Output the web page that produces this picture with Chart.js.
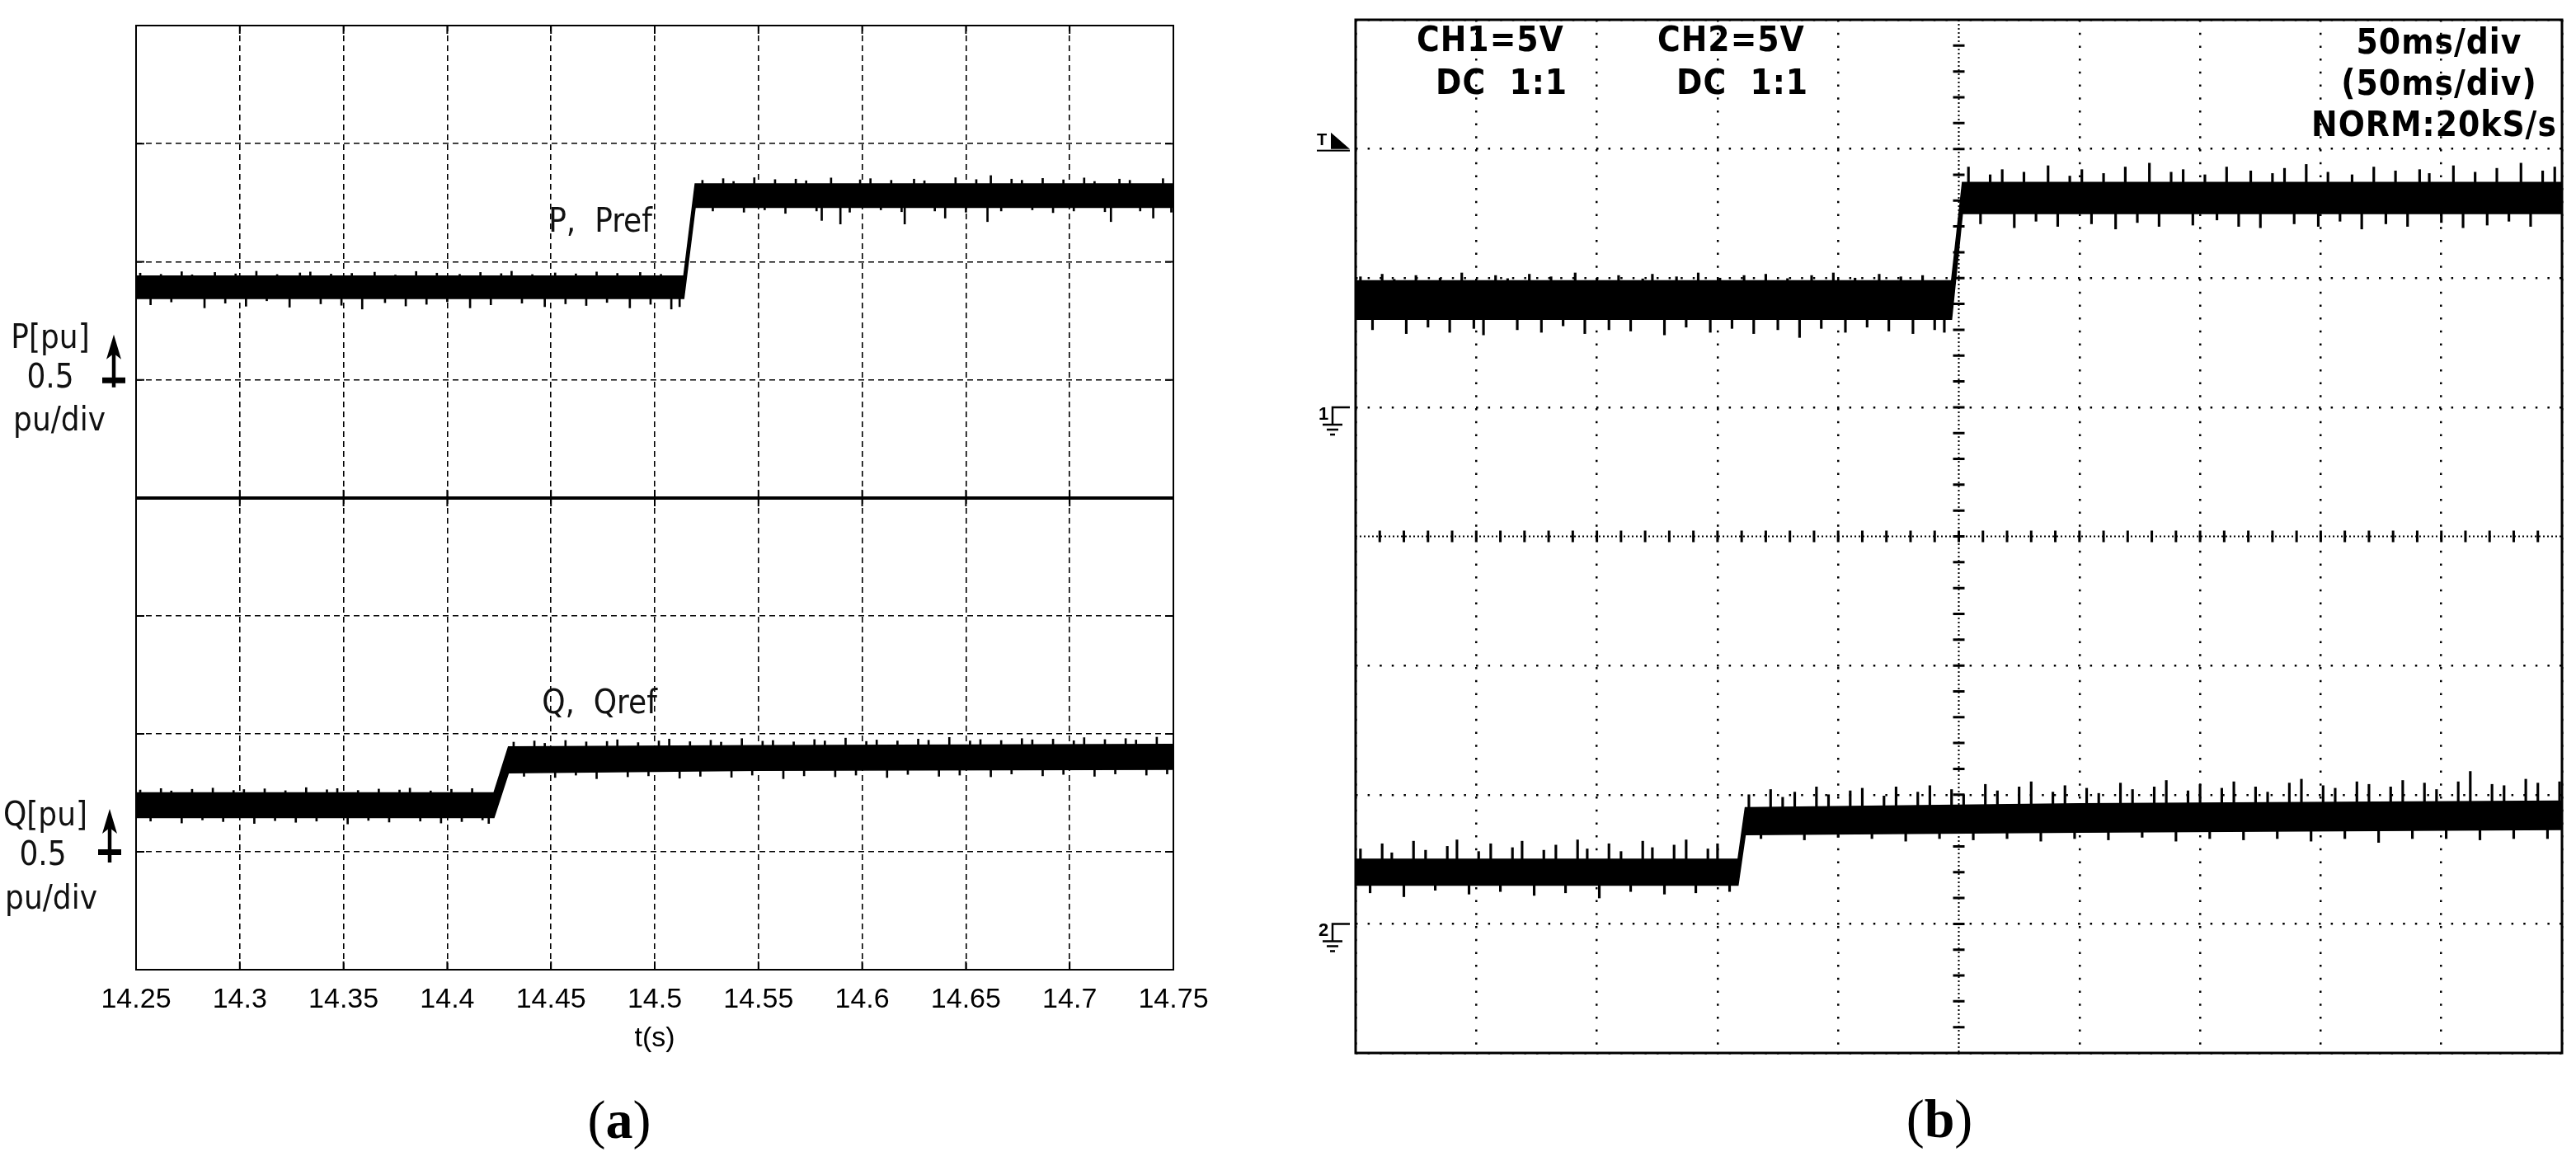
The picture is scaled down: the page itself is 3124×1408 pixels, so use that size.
<!DOCTYPE html>
<html>
<head>
<meta charset="utf-8">
<script src="https://cdn.jsdelivr.net/npm/chart.js@4.4.1/dist/chart.umd.min.js"></script>
<style>
  html, body { margin: 0; padding: 0; background: #fff; overflow: hidden; }
  body { width: 3124px; height: 1408px; position: relative; }
  canvas { position: absolute; }
  .lbl { position: absolute; transform: translate(-50%, -50%); white-space: pre; line-height: 1;
         font-family: "Liberation Sans Narrow", "DejaVu Sans Condensed", "Liberation Sans", sans-serif;
         font-size: 40px; color: #111; }
  .scope { position: absolute; transform: translateY(-50%); white-space: pre; line-height: 1;
           font-family: "Liberation Sans Narrow", "DejaVu Sans Condensed", "Liberation Sans", sans-serif;
           font-weight: bold; font-size: 42px; color: #000; letter-spacing: 1px; }
  .scope.c { transform: translate(-50%, -50%); }
  .cap { position: absolute; transform: translate(-50%, -50%); line-height: 1;
         font-family: "Liberation Serif", "DejaVu Serif", serif; font-size: 66px; color: #000; }
</style>
</head>
<body>
<canvas id="chartP" width="1378" height="613" style="left:105px;top:11px"></canvas>
<canvas id="chartQ" width="1378" height="712" style="left:105px;top:584px"></canvas>
<canvas id="chartScope" width="1533" height="1277" style="left:1584px;top:10px"></canvas>

<div class="lbl" style="left:61px;top:408px">P[pu]</div>
<div class="lbl" style="left:61px;top:456px">0.5</div>
<div class="lbl" style="left:72px;top:508px">pu/div</div>
<div class="lbl" style="left:55px;top:987px">Q[pu]</div>
<div class="lbl" style="left:52px;top:1035px">0.5</div>
<div class="lbl" style="left:62px;top:1088px">pu/div</div>
<div class="lbl" style="left:728px;top:267px">P,  Pref</div>
<div class="lbl" style="left:727px;top:851px">Q,  Qref</div>

<div class="scope" style="left:1718px;top:48px">CH1=5V</div>
<div class="scope" style="left:1741px;top:100px">DC  1:1</div>
<div class="scope" style="left:2010px;top:48px">CH2=5V</div>
<div class="scope" style="left:2033px;top:100px">DC  1:1</div>
<div class="scope c" style="left:2958px;top:51px">50ms/div</div>
<div class="scope c" style="left:2958px;top:101px">(50ms/div)</div>
<div class="scope c" style="left:2952px;top:151px">NORM:20kS/s</div>

<div class="cap" style="left:751px;top:1358px">(<b>a</b>)</div>
<div class="cap" style="left:2352px;top:1357px">(<b>b</b>)</div>

<script>
// ---- (a) simulation, time in s, power in pu (0.5 pu/div) ----
const timeTicks = ["14.25", "14.3", "14.35", "14.4", "14.45", "14.5", "14.55", "14.6", "14.65", "14.7", "14.75"];

// dense core of the noisy trace (lower / upper edge)
const pTime = [14.25, 14.514, 14.5195, 14.75];
const pUpper = [0.44, 0.44, 0.83, 0.83];
const pLower = [0.345, 0.345, 0.73, 0.73];

const qTime = [14.25, 14.4225, 14.4295, 14.55, 14.75];
const qUpper = [0.25, 0.25, 0.445, 0.45, 0.455];
const qLower = [0.145, 0.145, 0.335, 0.345, 0.35];

// noise spikes poking out of the core (time, tip value)
const pLowSpikeT = [14.252, 14.257, 14.262, 14.267, 14.272, 14.277, 14.283, 14.288, 14.293, 14.298,
  14.303, 14.308, 14.313, 14.318, 14.324, 14.329, 14.334, 14.339, 14.344, 14.349,
  14.354, 14.359, 14.365, 14.37, 14.375, 14.38, 14.385, 14.39, 14.395, 14.4,
  14.406, 14.411, 14.416, 14.421, 14.426, 14.431, 14.436, 14.441, 14.447, 14.452,
  14.457, 14.462, 14.467, 14.472, 14.477, 14.482, 14.488, 14.493, 14.498, 14.503,
  14.508, 14.512];
const pLowSpikeV = [0.452, 0.318, 0.447, 0.33, 0.458, 0.445, 0.305, 0.455, 0.325, 0.449,
  0.312, 0.46, 0.335, 0.446, 0.308, 0.453, 0.457, 0.322, 0.448, 0.316,
  0.451, 0.3, 0.456, 0.327, 0.444, 0.313, 0.459, 0.32, 0.452, 0.331,
  0.447, 0.305, 0.455, 0.318, 0.45, 0.46, 0.325, 0.446, 0.31, 0.453,
  0.322, 0.449, 0.315, 0.457, 0.328, 0.451, 0.305, 0.455, 0.32, 0.447,
  0.3, 0.31];
const pHighSpikeT = [14.523, 14.528, 14.533, 14.538, 14.543, 14.548, 14.553, 14.558, 14.563, 14.568,
  14.573, 14.578, 14.5805, 14.585, 14.5895, 14.594, 14.599, 14.604, 14.609, 14.614,
  14.619, 14.6205, 14.625, 14.63, 14.635, 14.64, 14.645, 14.65, 14.655, 14.6604,
  14.662, 14.667, 14.672, 14.677, 14.682, 14.687, 14.692, 14.697, 14.702, 14.707,
  14.712, 14.717, 14.7199, 14.724, 14.729, 14.734, 14.7403, 14.745, 14.749];
const pHighSpikeV = [0.845, 0.715, 0.852, 0.84, 0.71, 0.856, 0.72, 0.848, 0.705, 0.85,
  0.843, 0.715, 0.675, 0.855, 0.66, 0.71, 0.847, 0.852, 0.72, 0.845,
  0.712, 0.66, 0.85, 0.843, 0.715, 0.685, 0.856, 0.71, 0.848, 0.67,
  0.865, 0.715, 0.85, 0.845, 0.72, 0.853, 0.708, 0.847, 0.715, 0.855,
  0.84, 0.712, 0.67, 0.85, 0.845, 0.715, 0.685, 0.852, 0.71];

const qLowSpikeT = [14.252, 14.257, 14.262, 14.267, 14.272, 14.277, 14.282, 14.287, 14.292, 14.297,
  14.302, 14.307, 14.312, 14.317, 14.322, 14.327, 14.332, 14.337, 14.342, 14.347,
  14.352, 14.357, 14.362, 14.367, 14.372, 14.377, 14.382, 14.387, 14.392, 14.397,
  14.402, 14.407, 14.412, 14.417, 14.42];
const qLowSpikeV = [0.262, 0.13, 0.268, 0.258, 0.122, 0.265, 0.135, 0.27, 0.128, 0.26,
  0.264, 0.12, 0.267, 0.132, 0.259, 0.125, 0.272, 0.13, 0.263, 0.268,
  0.118, 0.26, 0.133, 0.266, 0.126, 0.262, 0.27, 0.13, 0.258, 0.122,
  0.265, 0.128, 0.268, 0.135, 0.12];
const qHighSpikeT = [14.432, 14.437, 14.442, 14.447, 14.452, 14.457, 14.462, 14.467, 14.472, 14.477,
  14.482, 14.487, 14.492, 14.497, 14.502, 14.507, 14.512, 14.517, 14.522, 14.527,
  14.532, 14.537, 14.542, 14.547, 14.552, 14.557, 14.562, 14.567, 14.572, 14.577,
  14.582, 14.587, 14.592, 14.597, 14.602, 14.607, 14.612, 14.617, 14.622, 14.627,
  14.632, 14.637, 14.642, 14.647, 14.652, 14.657, 14.662, 14.667, 14.672, 14.677,
  14.682, 14.687, 14.692, 14.697, 14.702, 14.707, 14.712, 14.717, 14.722, 14.727,
  14.732, 14.737, 14.742, 14.747];
const qHighSpikeV = [0.465, 0.32, 0.47, 0.46, 0.315, 0.472, 0.325, 0.466, 0.31, 0.468,
  0.475, 0.318, 0.463, 0.322, 0.47, 0.478, 0.312, 0.467, 0.32, 0.473,
  0.465, 0.316, 0.48, 0.325, 0.469, 0.472, 0.31, 0.466, 0.322, 0.476,
  0.47, 0.318, 0.482, 0.325, 0.468, 0.474, 0.315, 0.47, 0.328, 0.478,
  0.473, 0.32, 0.485, 0.325, 0.47, 0.476, 0.318, 0.472, 0.33, 0.48,
  0.475, 0.322, 0.478, 0.328, 0.471, 0.484, 0.32, 0.476, 0.33, 0.48,
  0.474, 0.325, 0.486, 0.33];

// ---- (b) oscilloscope, time in ms, volts (5 V/div) ----
const ch1Time = [0, 247, 251.5, 500];
const ch1Upper = [4.9, 4.9, 8.7, 8.7];
const ch1Lower = [3.4, 3.4, 7.5, 7.5];

const ch2Time = [0, 158.5, 161.5, 300, 500];
const ch2Upper = [2.5, 2.5, 4.5, 4.65, 4.75];
const ch2Lower = [1.5, 1.5, 3.45, 3.55, 3.65];

const ch1LowSpikeT = [2, 7, 11, 16, 21, 25, 30, 35, 39, 44,
  49, 53, 58, 63, 67, 72, 77, 81, 86, 91,
  95, 100, 105, 109, 114, 119, 123, 128, 133, 137,
  142, 147, 151, 156, 161, 165, 170, 175, 179, 184,
  189, 193, 198, 203, 207, 212, 217, 221, 226, 231,
  235, 240, 244];
const ch1LowSpikeV = [5.05, 3.0, 5.15, 4.95, 2.85, 5.1, 3.1, 5.0, 2.9, 5.2,
  3.05, 2.8, 5.1, 4.98, 3.0, 5.15, 2.9, 5.05, 3.15, 5.2,
  2.85, 5.0, 3.0, 5.1, 2.95, 4.97, 5.15, 2.8, 5.05, 3.1,
  5.2, 2.9, 5.0, 3.05, 5.1, 2.85, 5.15, 3.0, 4.98, 2.7,
  5.1, 3.05, 5.2, 2.9, 5.0, 3.1, 5.15, 2.95, 5.05, 2.85,
  5.1, 3.0, 2.9];
const ch1HighSpikeT = [254, 259, 263, 268, 273, 277, 282, 287, 291, 296,
  301, 305, 310, 315, 319, 324, 329, 333, 338, 343,
  347, 352, 357, 361, 366, 371, 375, 380, 385, 389,
  394, 399, 403, 408, 413, 417, 422, 427, 431, 436,
  441, 445, 450, 455, 459, 464, 469, 473, 478, 483,
  487, 492, 497];
const ch1HighSpikeV = [9.3, 7.1, 9.0, 9.2, 6.95, 9.1, 7.2, 9.35, 7.0, 8.95,
  9.2, 7.1, 9.05, 6.9, 9.3, 7.15, 9.45, 7.0, 9.1, 9.2,
  7.05, 9.0, 7.25, 9.3, 7.0, 9.15, 6.95, 9.05, 9.25, 7.1,
  9.4, 7.0, 9.1, 7.2, 9.0, 6.9, 9.3, 7.1, 9.15, 7.0,
  9.2, 9.05, 7.15, 9.35, 6.95, 9.1, 7.05, 9.25, 7.2, 9.45,
  7.0, 9.15, 9.3];
const ch2LowSpikeT = [2, 6, 11, 15, 20, 24, 29, 33, 38, 42,
  47, 51, 56, 60, 65, 69, 74, 78, 83, 87,
  92, 96, 101, 105, 110, 114, 119, 123, 128, 132,
  137, 141, 146, 150, 155];
const ch2LowSpikeV = [2.9, 1.2, 3.1, 2.75, 1.05, 3.2, 2.85, 1.3, 3.0, 3.25,
  1.15, 2.8, 3.1, 1.25, 2.95, 3.2, 1.1, 2.85, 3.05, 1.2,
  3.25, 2.9, 1.0, 3.1, 2.8, 1.25, 3.2, 2.95, 1.15, 3.05,
  3.25, 1.2, 2.9, 3.1, 1.25];
const ch2HighSpikeT = [163, 168, 172, 177, 182, 186, 191, 196, 200, 205,
  210, 214, 219, 224, 228, 233, 238, 242, 247, 252,
  256, 261, 266, 270, 275, 280, 284, 289, 294, 298,
  303, 308, 312, 317, 322, 326, 331, 336, 340, 345,
  350, 354, 359, 364, 368, 373, 378, 382, 387, 392,
  396, 401, 406, 410, 415, 420, 424, 429, 434, 438,
  443, 448, 452, 457, 462, 466, 471, 476, 480, 485,
  490, 494, 499];
const ch2HighSpikeV = [5.0, 3.3, 5.2, 4.9, 5.1, 3.25, 5.3, 5.0, 3.35, 5.15,
  5.25, 3.3, 4.95, 5.3, 3.2, 5.1, 5.35, 3.3, 5.2, 5.0,
  3.25, 5.4, 5.15, 3.3, 5.3, 5.5, 3.2, 5.1, 5.35, 3.3,
  5.25, 5.05, 3.25, 5.45, 5.2, 3.35, 5.3, 5.55, 3.2, 5.15,
  5.4, 3.3, 5.25, 5.5, 3.25, 5.3, 5.1, 3.3, 5.45, 5.6,
  3.2, 5.35, 5.25, 3.3, 5.5, 5.4, 3.15, 5.3, 5.55, 3.3,
  5.45, 5.2, 3.3, 5.5, 5.9, 3.25, 5.4, 5.35, 3.3, 5.6,
  5.45, 3.3, 5.5];

const voltsPerDiv = 5;
const groundDiv = [5, 1];   // CH1, CH2 ground markers
const triggerDiv = 7;

Chart.defaults.font.family = '"Liberation Sans", Arial, sans-serif';
Chart.defaults.color = "#000";

function pts(xs, ys, map) {
  return xs.map((x, i) => ({ x: x, y: map ? map(ys[i]) : ys[i] }));
}

function band(label, xs, lo, hi, map, w) {
  return [
    { label: label + " low", data: pts(xs, lo, map), borderColor: "#000", borderWidth: w, pointRadius: 0, fill: false },
    { label: label + " high", data: pts(xs, hi, map), borderColor: "#000", borderWidth: w, pointRadius: 0,
      backgroundColor: "#000", fill: "-1" },
  ];
}

// floating bars from the trace mean out to each spike tip
function spikes(label, ts, vs, base, map, w) {
  const f = map || (v => v);
  return {
    type: "bar", label: label, grouped: false, barThickness: w, backgroundColor: "#000", borderWidth: 0,
    data: ts.map((t, i) => ({ x: t, y: [f(base), f(vs[i])] })),
  };
}

const mid = (lo, hi, i) => (lo[i] + hi[i]) / 2;

// frame + inner tick marks round the plot area
const framePlugin = {
  id: "frame",
  afterDraw(chart, args, opts) {
    const { ctx, chartArea: a } = chart;
    ctx.save();
    ctx.strokeStyle = "#000";
    ctx.lineWidth = opts.width;
    ctx.strokeRect(a.left, a.top, a.right - a.left, a.bottom - a.top);
    if (opts.tickLen) {
      const L = opts.tickLen;
      ctx.lineWidth = 2;
      ctx.beginPath();
      const sx = chart.scales.x, sy = chart.scales.y;
      sx.ticks.forEach(t => {
        const px = sx.getPixelForValue(t.value);
        ctx.moveTo(px, a.top); ctx.lineTo(px, a.top + L);
        ctx.moveTo(px, a.bottom); ctx.lineTo(px, a.bottom - L);
      });
      sy.ticks.forEach(t => {
        const py = sy.getPixelForValue(t.value);
        ctx.moveTo(a.left, py); ctx.lineTo(a.left + L, py);
        ctx.moveTo(a.right, py); ctx.lineTo(a.right - L, py);
      });
      ctx.stroke();
    }
    if (opts.bottomWidth) {
      ctx.lineWidth = opts.bottomWidth;
      ctx.beginPath();
      ctx.moveTo(a.left, a.bottom); ctx.lineTo(a.right, a.bottom);
      ctx.stroke();
    }
    ctx.restore();
  }
};

// scale arrow (0.5 pu/div marker) left of the plot, crossbar at the zero line
const arrowPlugin = {
  id: "scaleArrow",
  afterDraw(chart, args, opts) {
    if (!opts.offset) return;
    const { ctx, chartArea: a } = chart;
    const y0 = chart.scales.y.getPixelForValue(0);
    const x = a.left - opts.offset;
    const tip = y0 - opts.up;
    ctx.save();
    ctx.strokeStyle = "#000";
    ctx.fillStyle = "#000";
    ctx.lineWidth = 4.5;
    ctx.beginPath();
    ctx.moveTo(x, tip + 20); ctx.lineTo(x, y0 + opts.down);
    ctx.stroke();
    ctx.beginPath();
    ctx.moveTo(x, tip); ctx.lineTo(x - 9, tip + 30); ctx.lineTo(x, tip + 23); ctx.lineTo(x + 9, tip + 30);
    ctx.closePath(); ctx.fill();
    ctx.fillRect(x - 14, y0 - 3, 28, 7);
    ctx.restore();
  }
};

const commonA = () => ({
  type: "line",
  plugins: [framePlugin, arrowPlugin],
  options: {
    responsive: false, animation: false, events: [],
    plugins: { legend: { display: false }, tooltip: { enabled: false } },
    scales: {
      x: {
        type: "linear", min: 14.25, max: 14.75, offset: false,
        ticks: { stepSize: 0.05, display: false },
        grid: { color: "#000", lineWidth: 1.6, drawTicks: false, offset: false },
        border: { display: false, dash: [7, 5] },
      },
      y: {
        min: -0.5, max: 1.5,
        ticks: { stepSize: 0.5, display: false },
        grid: { color: "#000", lineWidth: 1.6, drawTicks: false },
        border: { display: false, dash: [7, 5] },
        afterFit(s) { s.width = 0; },
      },
    },
  },
});

// top subplot: P
const cfgP = commonA();
cfgP.data = { datasets: [
  ...band("P", pTime, pLower, pUpper, null, 1.5),
  spikes("P spikes low", pLowSpikeT, pLowSpikeV, mid(pLower, pUpper, 0), null, 2),
  spikes("P spikes high", pHighSpikeT, pHighSpikeV, mid(pLower, pUpper, 3), null, 2),
] };
cfgP.options.layout = { padding: { left: 60, right: 60, top: 20, bottom: 20 } };
cfgP.options.scales.x.afterFit = s => { s.height = 0; };
cfgP.options.plugins.frame = { width: 2, tickLen: 10, bottomWidth: 4 };
cfgP.options.plugins.scaleArrow = { offset: 27, up: 55, down: 9 };
new Chart(document.getElementById("chartP"), cfgP);

// bottom subplot: Q, with time axis labels
const cfgQ = commonA();
cfgQ.data = { datasets: [
  ...band("Q", qTime, qLower, qUpper, null, 1.5),
  spikes("Q spikes low", qLowSpikeT, qLowSpikeV, mid(qLower, qUpper, 0), null, 2),
  spikes("Q spikes high", qHighSpikeT, qHighSpikeV, mid(qLower, qUpper, 3), null, 2),
] };
cfgQ.options.layout = { padding: { left: 60, right: 60, top: 20, bottom: 10 } };
cfgQ.options.scales.x.ticks = {
  stepSize: 0.05, padding: 16, font: { size: 34 }, maxRotation: 0, autoSkip: false,
  callback: (v, i) => timeTicks[i],
};
cfgQ.options.scales.x.title = { display: true, text: "t(s)", font: { size: 34 }, padding: { top: 0, bottom: 6 } };
cfgQ.options.scales.x.afterFit = s => { s.height = 110; };
cfgQ.options.plugins.frame = { width: 2, tickLen: 10, bottomWidth: 0 };
cfgQ.options.plugins.scaleArrow = { offset: 32, up: 52, down: 13 };
new Chart(document.getElementById("chartQ"), cfgQ);

// ---- (b) scope screen ----
const toDiv = g => v => g + v / voltsPerDiv;

const scopePlugin = {
  id: "scopeMarks",
  afterDraw(chart) {
    const { ctx, chartArea: a, scales: { x, y } } = chart;
    const cx = x.getPixelForValue(250), cy = y.getPixelForValue(4);
    ctx.save();
    ctx.strokeStyle = "#000";
    ctx.fillStyle = "#000";
    // fine dotted centre axes
    ctx.lineWidth = 2;
    ctx.setLineDash([2, 3]);
    ctx.beginPath();
    ctx.moveTo(cx, a.top); ctx.lineTo(cx, a.bottom);
    ctx.moveTo(a.left, cy); ctx.lineTo(a.right, cy);
    ctx.stroke();
    ctx.setLineDash([]);
    // minor ticks, 5 per division
    ctx.lineWidth = 3;
    ctx.beginPath();
    for (let t = 10; t < 500; t += 10) {
      const px = x.getPixelForValue(t);
      ctx.moveTo(px, cy - 7); ctx.lineTo(px, cy + 7);
    }
    for (let d = 0.2; d < 7.95; d += 0.2) {
      const py = y.getPixelForValue(d);
      ctx.moveTo(cx - 7, py); ctx.lineTo(cx + 7, py);
    }
    ctx.stroke();
    // trigger marker
    const ty = y.getPixelForValue(triggerDiv);
    ctx.font = 'bold 20px "Liberation Sans", sans-serif';
    ctx.textBaseline = "bottom";
    ctx.fillText("T", a.left - 47, ty);
    ctx.beginPath();
    ctx.moveTo(a.left - 30, ty - 20); ctx.lineTo(a.left - 30, ty); ctx.lineTo(a.left - 7, ty);
    ctx.closePath(); ctx.fill();
    ctx.fillRect(a.left - 47, ty + 1, 40, 2);
    // channel ground markers
    groundDiv.forEach((g, i) => {
      const gy = y.getPixelForValue(g);
      ctx.font = 'bold 22px "Liberation Sans", sans-serif';
      ctx.textBaseline = "top";
      ctx.fillText(String(i + 1), a.left - 45, gy - 2);
      ctx.lineWidth = 2.5;
      ctx.beginPath();
      ctx.moveTo(a.left - 7, gy); ctx.lineTo(a.left - 28, gy); ctx.lineTo(a.left - 28, gy + 21);
      ctx.moveTo(a.left - 40, gy + 21); ctx.lineTo(a.left - 16, gy + 21);
      ctx.moveTo(a.left - 35, gy + 27); ctx.lineTo(a.left - 21, gy + 27);
      ctx.moveTo(a.left - 31, gy + 33); ctx.lineTo(a.left - 25, gy + 33);
      ctx.stroke();
    });
    ctx.restore();
  }
};

const hideCentre = c => (c.tick && (c.tick.value === 250 || c.tick.value === 4)) ? "rgba(0,0,0,0)" : "#000";
const ch1Div = toDiv(groundDiv[0]), ch2Div = toDiv(groundDiv[1]);

new Chart(document.getElementById("chartScope"), {
  type: "line",
  data: {
    datasets: [
      ...band("CH1", ch1Time, ch1Lower, ch1Upper, ch1Div, 1.5),
      ...band("CH2", ch2Time, ch2Lower, ch2Upper, ch2Div, 1.5),
      spikes("CH1 spikes low", ch1LowSpikeT, ch1LowSpikeV, mid(ch1Lower, ch1Upper, 0), ch1Div, 2.5),
      spikes("CH1 spikes high", ch1HighSpikeT, ch1HighSpikeV, mid(ch1Lower, ch1Upper, 3), ch1Div, 2.5),
      spikes("CH2 spikes low", ch2LowSpikeT, ch2LowSpikeV, mid(ch2Lower, ch2Upper, 0), ch2Div, 2.5),
      spikes("CH2 spikes high", ch2HighSpikeT, ch2HighSpikeV, mid(ch2Lower, ch2Upper, 3), ch2Div, 2.5),
    ],
  },
  plugins: [framePlugin, scopePlugin],
  options: {
    responsive: false, animation: false, events: [],
    layout: { padding: { left: 60, right: 10, top: 14, bottom: 10 } },
    plugins: { legend: { display: false }, tooltip: { enabled: false }, frame: { width: 3 } },
    scales: {
      x: {
        type: "linear", min: 0, max: 500, offset: false,
        ticks: { stepSize: 50, display: false },
        grid: { color: hideCentre, lineWidth: 2.5, drawTicks: false, offset: false },
        border: { display: false, dash: [2.5, 13.2] },
        afterFit(s) { s.height = 0; },
      },
      y: {
        min: 0, max: 8,
        ticks: { stepSize: 1, display: false },
        grid: { color: hideCentre, lineWidth: 2.5, drawTicks: false },
        border: { display: false, dash: [2.5, 12.1] },
        afterFit(s) { s.width = 0; },
      },
    },
  },
});
</script>
</body>
</html>
